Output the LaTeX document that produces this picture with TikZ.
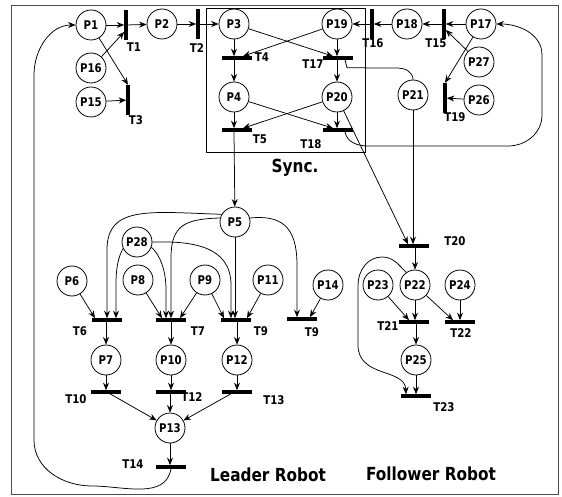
\documentclass[tikz,border=0pt]{standalone}
\usepackage{fontspec}
\setmainfont{DejaVu Sans}[FakeStretch=0.85]
\usetikzlibrary{arrows.meta,calc}
\begin{document}
\begin{tikzpicture}[x=1pt,y=1pt,
  place/.style={circle,draw,line width=0.8pt,minimum size=30pt,inner sep=0pt,font=\fontsize{12}{12}\selectfont\bfseries},
  hbar/.style={rectangle,fill=black,draw=none,minimum width=30pt,minimum height=3.2pt,inner sep=0pt},
  vbar/.style={rectangle,fill=black,draw=none,minimum width=3.2pt,minimum height=30pt,inner sep=0pt},
  arc/.style={-{Stealth[length=7.5pt,width=6pt]},line width=0.75pt},
  plain/.style={line width=0.75pt},
  lbl/.style={font=\fontsize{12}{12}\selectfont\bfseries,inner sep=0pt},
  big/.style={font=\fontsize{18}{18}\selectfont\bfseries,inner sep=0pt}]
\useasboundingbox (0,0) rectangle (562,-497);
\draw[black!70,line width=0.8pt] (11,-5) rectangle (558,-494);
\draw[line width=0.7pt] (206,-8) rectangle (365,-152);

% places
\node[place] (P1) at (91,-25) {P1};
\node[place] (P2) at (162,-24) {P2};
\node[place] (P3) at (234,-24) {P3};
\node[place] (P19) at (337,-24) {P19};
\node[place] (P18) at (407,-24) {P18};
\node[place] (P17) at (481,-24) {P17};
\node[place] (P16) at (91,-68) {P16};
\node[place] (P15) at (91,-102) {P15};
\node[place] (P27) at (479,-62) {P27};
\node[place] (P26) at (479,-100) {P26};
\node[place] (P4) at (234,-97) {P4};
\node[place] (P20) at (337,-97) {P20};
\node[place] (P21) at (413,-95) {P21};
\node[place] (P5) at (235,-222) {P5};
\node[place] (P28) at (137,-242) {P28};
\node[place] (P6) at (72,-281) {P6};
\node[place] (P8) at (138,-280) {P8};
\node[place] (P9) at (205,-280) {P9};
\node[place] (P11) at (268,-280) {P11};
\node[place] (P14) at (328,-285) {P14};
\node[place] (P23) at (378,-285) {P23};
\node[place] (P22) at (415,-285) {P22};
\node[place] (P24) at (460,-285) {P24};
\node[place] (P7) at (106,-360) {P7};
\node[place] (P10) at (171,-360) {P10};
\node[place] (P12) at (237,-360) {P12};
\node[place] (P13) at (170,-428) {P13};
\node[place] (P25) at (416,-360) {P25};

% transitions
\node[vbar] (T1) at (126,-25) {};
\node[vbar] (T2) at (198,-24) {};
\node[vbar] (T3) at (128,-100) {};
\node[vbar] (T16) at (372,-24) {};
\node[vbar] (T15) at (444,-24) {};
\node[vbar] (T19) at (445,-98) {};
\node[hbar] (T4) at (237,-58) {};
\node[hbar] (T17) at (338,-58) {};
\node[hbar] (T5) at (237,-130) {};
\node[hbar] (T18) at (338,-130) {};
\node[hbar] (T20) at (414,-246) {};
\node[hbar] (T6) at (107,-320) {};
\node[hbar] (T7) at (171,-320) {};
\node[hbar] (T9a) at (236,-320) {};
\node[hbar] (T9b) at (302,-319) {};
\node[hbar] (T21) at (414,-322) {};
\node[hbar] (T22) at (460,-322) {};
\node[hbar] (T10) at (106,-392) {};
\node[hbar] (T12) at (171,-392) {};
\node[hbar] (T13) at (237,-392) {};
\node[hbar] (T14) at (171,-467) {};
\node[hbar] (T23) at (416,-396) {};

% labels
\node[lbl] (lT1) at (134,-47) {T1};
\node[lbl] (lT2) at (197,-48) {T2};
\node[lbl] (lT3) at (136,-120) {T3};
\node[lbl] (lT4) at (262,-57) {T4};
\node[lbl] (lT17) at (313,-64) {T17};
\node[lbl] (lT5) at (260,-139) {T5};
\node[lbl] (lT18) at (311,-144) {T18};
\node[lbl] (lT16) at (373,-43) {T16};
\node[lbl] (lT15) at (436,-43) {T15};
\node[lbl] (lT19) at (455,-117) {T19};
\node[lbl] (lT20) at (455,-241) {T20};
\node[lbl] (lT21) at (388,-326) {T21};
\node[lbl] (lT22) at (461,-333) {T22};
\node[lbl] (lT23) at (444,-407) {T23};
\node[lbl] (lT6) at (80,-331) {T6};
\node[lbl] (lT7) at (198,-331) {T7};
\node[lbl] (lT9a) at (261,-331) {T9};
\node[lbl] (lT9b) at (312,-332) {T9};
\node[lbl] (lT10) at (76,-399) {T10};
\node[lbl] (lT12) at (192,-397) {T12};
\node[lbl] (lT13) at (274,-400) {T13};
\node[lbl] (lT14) at (133,-464) {T14};
\node[big] (sync) at (295,-168) {Sync.};
\node[big] (leader) at (268,-475) {Leader Robot};
\node[big] (follower) at (431,-474) {Follower Robot};

% leader top
\draw[arc] (P1) -- (T1);
\draw[arc] (T1) -- (P2);
\draw[arc] (P16) -- ([yshift=-7pt]T1.west);
\draw[arc] (P1) -- (T3.north);
\draw[arc] (P15) -- (T3);
\draw[arc] (P2) -- (T2);
\draw[arc] (T2) -- (P3);
% sync
\draw[arc] (P3) -- (P3 |- T4.north);
\draw[arc] (P19) -- ([xshift=6pt]T4.north);
\draw[arc] (P3) -- ([xshift=-5pt]T17.north);
\draw[arc] (P19) -- (P19 |- T17.north);
\draw[arc] (T4.south -| P4) -- (P4);
\draw[arc] (T17.south -| P20) -- (P20);
\draw[arc] (P4) -- (P4 |- T5.north);
\draw[arc] (P4) -- ([xshift=-5pt]T18.north);
\draw[arc] (P20) -- ([xshift=6pt]T5.north);
\draw[arc] (P20) -- (P20 |- T18.north);
\draw[arc] (T5.south -| P4) -- (P5);
\draw[plain] ([xshift=7pt]T17.south) -- ++(2,-8) -- (398,-68) to[out=0,in=90] (P21.north);
\draw[arc] ([xshift=7pt]T18.south) to[out=-80,in=180] (368,-146) -- (508,-146) to[out=0,in=-90] (542,-115) -- (542,-55) to[out=90,in=0] (P17.east);
% follower top
\draw[arc] (P17) -- (T15);
\draw[arc] (T15) -- (P18);
\draw[arc] (P18) -- (T16);
\draw[arc] (T16) -- (P19);
\draw[arc] (P27) -- ([yshift=-6pt]T15.east);
\draw[arc] (P17) -- (T19.north);
\draw[arc] (P26) -- (T19);
% leader middle
\draw[arc] (P5.150) .. controls (150,-212) and (107,-205) .. (107,-250) -- (T6.north);
\draw[arc] (P5.165) .. controls (185,-219) and (171,-225) .. (171,-258) -- (T7.north);
\draw[arc] (P28.205) .. controls (118,-258) and (116,-268) .. (116,-285) -- ([xshift=9pt]T6.north);
\draw[arc] (P28.-20) .. controls (160,-255) and (166,-270) .. (166,-290) -- ([xshift=-5pt]T7.north);
\draw[arc] (P28.east) .. controls (190,-241) and (231,-245) .. (231,-285) -- ([xshift=-5pt]T9a.north);
\draw[arc] (P5) -- (P5 |- T9a.north);
\draw[arc] (P5.15) .. controls (280,-215) and (297,-225) .. (297,-265) -- ([xshift=-5pt]T9b.north);
\draw[arc] (P6) -- ([xshift=-12pt]T6.north);
\draw[arc] (P8) -- ([xshift=-9pt]T7.north);
\draw[arc] (P9) -- ([xshift=9pt]T7.north);
\draw[arc] (P9) -- ([xshift=-12pt]T9a.north);
\draw[arc] (P11) -- ([xshift=11pt]T9a.north);
\draw[arc] (P14) -- ([xshift=8pt]T9b.north);
\draw[arc] (T6.south -| P7) -- (P7);
\draw[arc] (T7.south -| P10) -- (P10);
\draw[arc] (T9a.south -| P12) -- (P12);
\draw[arc] (P7) -- (P7 |- T10.north);
\draw[arc] (P10) -- (P10 |- T12.north);
\draw[arc] (P12) -- (P12 |- T13.north);
\draw[arc] ([xshift=4pt]T10.south) -- (P13);
\draw[arc] (T12.south -| P13) -- (P13);
\draw[arc] ([xshift=-6pt]T13.south) -- (P13);
\draw[arc] (P13) -- (P13 |- T14.north);
\draw[arc] (T14.south) to[out=-100,in=0] (92,-486) to[out=180,in=-90] (34,-440) -- (34,-75) to[out=90,in=180] (P1.west);
% follower lower
\draw[arc] (P21) -- (P21 |- T20.north);
\draw[arc] (P20) -- ([xshift=-6pt]T20.north);
\draw[arc] (T20.south -| P22) -- (P22);
\draw[arc] (P23) -- ([xshift=-5pt]T21.north);
\draw[arc] (P22) -- (P22 |- T21.north);
\draw[arc] (P22) -- ([xshift=-7pt]T22.north);
\draw[arc] (P24) -- (P24 |- T22.north);
\draw[arc] (T21.south -| P25) -- (P25);
\draw[arc] (P25) -- (P25 |- T23.north);
\draw[arc] (P22.125) to[out=135,in=0] (382,-257) to[out=180,in=90] (358,-285) -- (358,-345) .. controls (358,-378) and (405,-368) .. ([xshift=-10pt]T23.north);
\end{tikzpicture}
\end{document}
